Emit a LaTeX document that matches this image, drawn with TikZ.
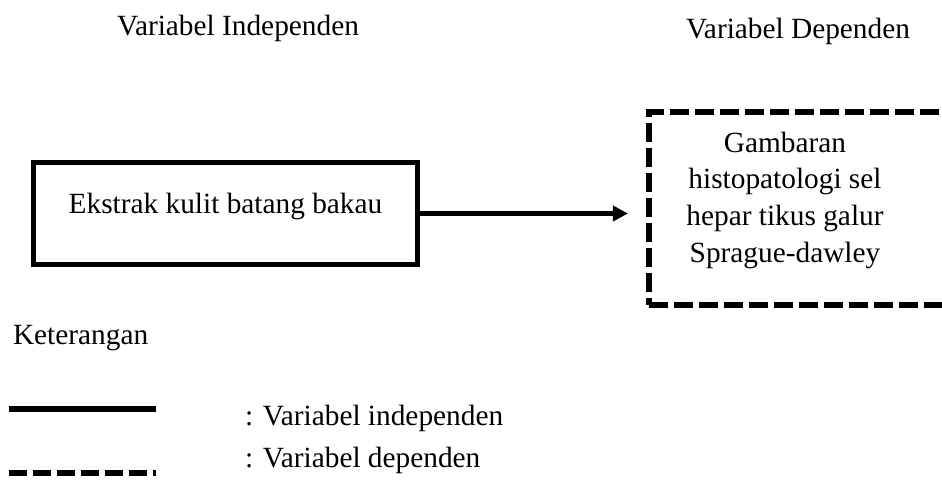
\documentclass[tikz,border=0pt]{standalone}
\usepackage{fontspec}
\setmainfont{Liberation Serif}
\usetikzlibrary{arrows.meta, positioning}

\begin{document}
\begin{tikzpicture}[
    x=0.75pt, y=-0.75pt,
    font=\fontsize{22}{27.5}\selectfont,
    indepbox/.style={rectangle, draw=black, line width=3.75pt, minimum width=288pt, minimum height=75.75pt, inner sep=0pt, text height=15pt, text depth=15pt},
    depbox/.style={rectangle, draw=black, line width=4.5pt, dash pattern=on 14.25pt off 4.5pt, minimum width=232.9pt, minimum height=144.75pt, inner sep=0pt},
    plain/.style={inner sep=0pt, outer sep=0pt},
    arr/.style={-{Triangle[length=11.25pt, width=11.25pt]}, line width=3.2pt, shorten >=13.9pt},
    legsolid/.style={line width=5pt},
    legdash/.style={line width=4.3pt, dash pattern=on 13.5pt off 4.5pt}
]
\useasboundingbox (0,0) rectangle (942,481);
\clip (0,0) rectangle (942,481);
% judul kolom
\node[plain, anchor=base] (judulindep) at (238,36) {Variabel Independen};
\node[plain, anchor=base] (juduldep) at (798,39) {Variabel Dependen};
% kotak variabel
\node[indepbox] (ekstrak) at (225.5,213.5) {Ekstrak kulit batang bakau};
\node[depbox] (gambaran) at (804.75,208.5) {};
\node[plain, align=center] (gambarantxt) at (785,200) {Gambaran\\histopatologi sel\\hepar tikus galur\\Sprague-dawley};
\draw[arr] (ekstrak.east) -- (ekstrak.east -| gambaran.west);
% keterangan
\node[plain, anchor=base west] (ket) at (13,344) {Keterangan};
\coordinate (solidA) at (9,409);
\coordinate (solidB) at (156,409);
\coordinate (dashA) at (9,473);
\coordinate (dashB) at (156,473);
\draw[legsolid] (solidA) -- (solidB);
\draw[legdash] (dashA) -- (dashB);
\node[plain, anchor=base west] (ketindep) at (245,425) {: Variabel independen};
\node[plain, anchor=base west] (ketdep) at (245,467) {: Variabel dependen};
\end{tikzpicture}
\end{document}
